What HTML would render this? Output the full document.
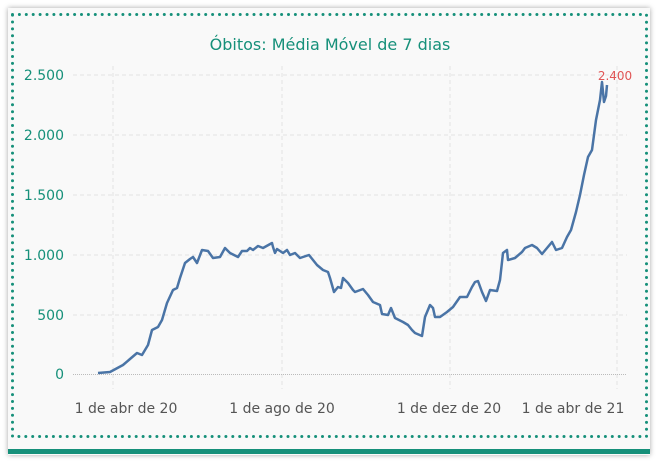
<!DOCTYPE html>
<html><head><meta charset="utf-8"><style>
html,body{margin:0;padding:0;background:#fff;}
body{width:658px;height:462px;position:relative;overflow:hidden;font-family:"Liberation Sans","DejaVu Sans",sans-serif;}
.card{position:absolute;left:8px;top:8px;width:642px;height:447px;background:#f9f9f9;box-shadow:0 0 5px rgba(0,0,0,0.35);}
.bar{position:absolute;left:8px;top:449px;width:642px;height:5px;background:#16907a;}
</style></head><body>
<div class="card"></div>
<div class="bar"></div>
<svg width="658" height="462" style="position:absolute;left:0;top:0">
<rect x="12.5" y="14.5" width="634" height="422" fill="none" stroke="#16907a" stroke-width="3" stroke-dasharray="0 6.9" stroke-linecap="round"/>
<text x="330" y="50" text-anchor="middle" font-family="DejaVu Sans, sans-serif" font-size="16" fill="#16907a">Óbitos: Média Móvel de 7 dias</text>
<g stroke="#e4e4e4" stroke-dasharray="4 3" stroke-width="1">
<line x1="73" x2="627" y1="75" y2="75"/><line x1="73" x2="627" y1="135" y2="135"/>
<line x1="73" x2="627" y1="195" y2="195"/><line x1="73" x2="627" y1="255" y2="255"/>
<line x1="73" x2="627" y1="315" y2="315"/>
<line x1="113" x2="113" y1="66" y2="389"/><line x1="282" x2="282" y1="66" y2="389"/>
<line x1="450" x2="450" y1="66" y2="389"/><line x1="617" x2="617" y1="66" y2="389"/>
</g>
<line x1="73" x2="627" y1="374.5" y2="374.5" stroke="#bbb" stroke-dasharray="1 1"/>
<g font-family="DejaVu Sans, sans-serif" font-size="14" fill="#16907a" text-anchor="end">
<text x="64" y="80">2.500</text><text x="64" y="140">2.000</text><text x="64" y="200">1.500</text>
<text x="64" y="260">1.000</text><text x="64" y="320">500</text><text x="64" y="379">0</text>
</g>
<g font-family="DejaVu Sans, sans-serif" font-size="14" fill="#555" text-anchor="middle">
<text x="126" y="413">1 de abr de 20</text><text x="282" y="413">1 de ago de 20</text>
<text x="449" y="413">1 de dez de 20</text><text x="573" y="413">1 de abr de 21</text>
</g>
<text x="615" y="80" text-anchor="middle" font-family="DejaVu Sans, sans-serif" font-size="12" fill="#e05555">2.400</text>
<polyline fill="none" stroke="#4a74a6" stroke-width="2.5" stroke-linejoin="round" points="98,373 110,372 123,365 137,353 142,355 148,345 152,330 158,327 162,320 167,303 173,290 177,288 180,278 185,263 190,259 193,257 197,263 202,250 208,251 213,258 220,257 225,248 230,253 238,257 242,251 247,251 250,248 253,250 258,246 263,248 272,243 273,247 275,253 277,249 283,253 287,250 290,255 295,253 300,258 309,255 317,265 323,270 328,272 330,278 334,292 338,287 341,288 343,278 348,283 353,290 355,292 363,289 368,295 373,302 380,305 382,314 388,315 391,308 395,318 403,322 408,325 412,330 415,333 422,336 425,317 430,305 433,308 435,317 440,317 447,312 453,307 460,297 467,297 472,287 475,282 478,281 482,292 486,301 490,290 497,291 500,280 503,253 507,250 508,260 515,258 522,252 525,248 532,245 537,248 542,254 547,248 552,242 556,250 562,248 567,237 571,230 576,212 580,195 584,175 588,157 592,150 596,120 600,100 602,82 604,102 606,96 607,85"/>
</svg>
</body></html>
